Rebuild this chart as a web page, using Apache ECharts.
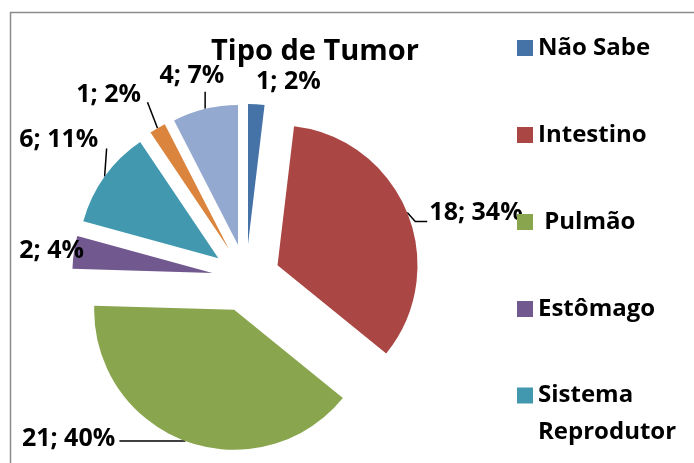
<!DOCTYPE html>
<html>
<head>
<meta charset="utf-8">
<script src="https://cdn.jsdelivr.net/npm/echarts@6/dist/echarts.min.js"></script>
<style>
  html, body { margin: 0; padding: 0; background: #fff; }
  #chart { width: 694px; height: 463px; }
</style>
</head>
<body>
<div id="chart"></div>
<script>
// tumour types, clockwise from 12 o'clock
const tumorNames = ['Não Sabe', 'Intestino', ' Pulmão', 'Estômago', 'Sistema Reprodutor', 'Outro', 'Outros'];
const tumorCounts = [1, 18, 21, 2, 6, 1, 4];
const tumorColors = ['#4572A7', '#AA4643', '#89A54E', '#71588F', '#4198AF', '#DB843D', '#93A9CF'];
const legendNames = ['Não Sabe', 'Intestino', ' Pulmão', 'Estômago'];

// leader line shape (offsets from the slice's anchor) and label nudges, per slice
const lineBends = [null, [[8, 9], [20, 9]], [[-66, 0]], null, [[2, -28]], [[-10, -26]], [[0, -17]]];
const labelNudge = [[-14, -10], [-2, 5], [-53, -13], [30, 0], [12, -30], [14, -33], [35, -21]];

const font = '"Open Sans", sans-serif';

const chart = echarts.init(document.getElementById('chart'), null, { renderer: 'canvas' });

const legendText = { fontFamily: font, fontWeight: 'bold', fontSize: 24, color: '#000' };

const option = {
  animation: false,
  title: {
    text: 'Tipo de Tumor',
    left: 206,
    top: 32,
    textStyle: { fontFamily: font, fontWeight: 'bold', fontSize: 29, color: '#000' }
  },
  graphic: [{
    type: 'rect',
    shape: { x: 10.5, y: 12.5, width: 800, height: 600 },
    style: { fill: null, stroke: '#8c8c8c', lineWidth: 1.5 },
    silent: true
  }],
  legend: [{
    orient: 'vertical',
    left: 517,
    top: 33,
    padding: 0,
    itemWidth: 16,
    itemHeight: 16,
    itemGap: 57,
    selectedMode: false,
    icon: 'rect',
    data: legendNames,
    textStyle: Object.assign({ lineHeight: 30 }, legendText)
  }, {
    orient: 'vertical',
    left: 517,
    top: 340,
    padding: 0,
    itemWidth: 16,
    itemHeight: 16,
    selectedMode: false,
    icon: 'rect',
    data: ['Sistema Reprodutor'],
    formatter: () => ' \nSistema\nReprodutor',
    textStyle: Object.assign({ lineHeight: 37 }, legendText)
  }],
  series: [{
    type: 'pie',
    center: [246, 278],
    radius: [0, 140],
    startAngle: 90,
    clockwise: true,
    selectedMode: 'multiple',
    selectedOffset: 34,
    percentPrecision: 0,
    itemStyle: { borderWidth: 0 },
    select: { itemStyle: { borderWidth: 0 } },
    emphasis: { disabled: true },
    label: {
      show: true,
      position: 'outside',
      formatter: '{c}; {d}%',
      fontFamily: font,
      fontWeight: 'bold',
      fontSize: 25,
      color: '#000'
    },
    labelLine: { show: true, length: 12, length2: 8, lineStyle: { color: '#000', width: 1.5 } },
    labelLayout: params => {
      const i = params.dataIndex;
      const out = { dx: labelNudge[i][0], dy: labelNudge[i][1] };
      const pts = params.labelLinePoints;
      if (pts && lineBends[i]) {
        const a = pts[0];
        out.labelLinePoints = [[a[0], a[1]]].concat(lineBends[i].map(o => [a[0] + o[0], a[1] + o[1]]));
      }
      return out;
    },
    data: tumorNames.map((name, i) => ({
      name: name,
      value: tumorCounts[i],
      selected: true,
      itemStyle: { color: tumorColors[i] },
      labelLine: { show: lineBends[i] !== null }
    }))
  }]
};

chart.setOption(option);
</script>
</body>
</html>
